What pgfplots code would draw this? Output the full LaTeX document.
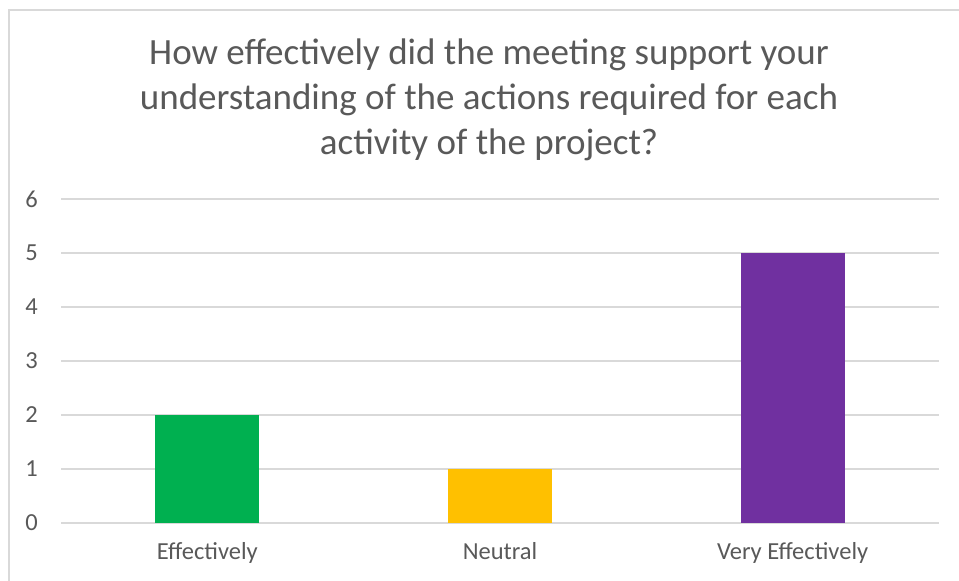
\documentclass[border=0pt]{standalone}
\usepackage{pgfplots}
\pgfplotsset{compat=1.18}
\usepackage{fontspec}
\setmainfont{Carlito}
\definecolor{txt}{HTML}{595959}
\definecolor{gridc}{HTML}{D9D9D9}
\definecolor{cgreen}{HTML}{00B050}
\definecolor{cyellow}{HTML}{FFC000}
\definecolor{cpurple}{HTML}{7030A0}
\begin{document}
\begin{tikzpicture}[x=1bp,y=1bp]
\useasboundingbox (0,0) rectangle (959,581);
\fill[white] (0,0) rectangle (959,581);
\draw[gridc, line width=1.3bp] (9,-10) rectangle (975,571);
\begin{axis}[
  at={(61bp,58bp)}, anchor=south west,
  scale only axis, width=878bp, height=324bp,
  xmin=-0.5, xmax=2.5, ymin=0, ymax=6,
  ybar, bar shift=0pt, bar width=104bp,
  xtick={0,1,2},
  xticklabels={Effectively,Neutral,Very Effectively},
  ytick={0,1,2,3,4,5,6},
  major tick length=0pt,
  axis line style={draw=none},
  ymajorgrids, grid style={gridc, line width=1.3bp},
  tick label style={font=\fontsize{24.5bp}{28bp}\selectfont, text=txt},
  /pgf/number format/assume math mode=true,
  yticklabel style={anchor=east, inner sep=0pt, xshift=-23bp},
  xticklabel style={anchor=base, inner sep=0pt, yshift=-37bp},
  clip=false,
]
\addplot[fill=cgreen, draw=none] coordinates {(0,2)};
\addplot[fill=cyellow, draw=none] coordinates {(1,1)};
\addplot[fill=cpurple, draw=none] coordinates {(2,5)};
\end{axis}
\begin{scope}[every node/.style={anchor=base, inner sep=0pt, text=txt, font=\fontsize{37bp}{42bp}\selectfont}]
\node at (489,516) {How effectively did the meeting support your};
\node at (489,471) {understanding of the actions required for each};
\node at (489,426) {activity of the project?};
\end{scope}
\end{tikzpicture}
\end{document}
